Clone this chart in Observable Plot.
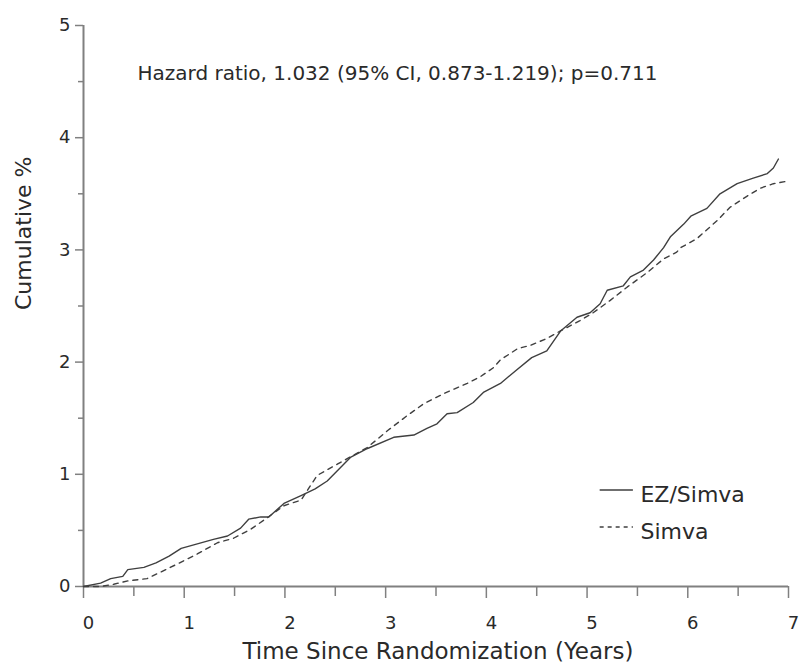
<!DOCTYPE html>
<html>
<head>
<meta charset="utf-8">
<script src="https://cdn.jsdelivr.net/npm/d3@7"></script>
<script src="https://cdn.jsdelivr.net/npm/@observablehq/plot@0.6"></script>
<style>
  html, body { margin: 0; padding: 0; background: #fff; }
  #chart { width: 799px; height: 665px; }
</style>
</head>
<body>
<div id="chart"></div>
<script>
// EZ/Simva (solid)
const ezX = [0, 0.17, 0.27, 0.39, 0.44, 0.6, 0.72, 0.85, 0.97, 1.13, 1.29, 1.43, 1.56, 1.64, 1.76, 1.84, 1.99, 2.16, 2.3, 2.42, 2.65, 2.82, 3.08, 3.28, 3.41, 3.51, 3.61, 3.71, 3.87, 3.97, 4.14, 4.3, 4.45, 4.6, 4.74, 4.9, 5.03, 5.13, 5.2, 5.36, 5.43, 5.56, 5.66, 5.76, 5.83, 5.96, 6.03, 6.19, 6.32, 6.49, 6.65, 6.79, 6.85, 6.9];
const ezY = [0, 0.03, 0.07, 0.09, 0.15, 0.17, 0.21, 0.27, 0.34, 0.38, 0.42, 0.45, 0.52, 0.60, 0.62, 0.62, 0.74, 0.81, 0.87, 0.94, 1.15, 1.23, 1.33, 1.35, 1.41, 1.45, 1.54, 1.55, 1.64, 1.73, 1.81, 1.93, 2.04, 2.10, 2.28, 2.40, 2.44, 2.52, 2.64, 2.68, 2.76, 2.82, 2.91, 3.02, 3.12, 3.23, 3.30, 3.37, 3.50, 3.59, 3.64, 3.68, 3.73, 3.81];
// Simva (dashed)
const simX = [0, 0.17, 0.3, 0.44, 0.63, 0.77, 0.93, 1.13, 1.33, 1.49, 1.66, 1.82, 1.99, 2.16, 2.32, 2.52, 2.82, 3.02, 3.21, 3.38, 3.58, 3.68, 3.81, 3.94, 4.07, 4.14, 4.31, 4.44, 4.6, 4.74, 4.93, 5.06, 5.23, 5.4, 5.6, 5.76, 5.89, 5.93, 6.09, 6.29, 6.42, 6.59, 6.72, 6.85, 6.97];
const simY = [0, 0, 0.02, 0.05, 0.07, 0.13, 0.2, 0.29, 0.39, 0.43, 0.51, 0.61, 0.72, 0.77, 0.99, 1.09, 1.24, 1.39, 1.52, 1.63, 1.72, 1.76, 1.81, 1.87, 1.95, 2.02, 2.12, 2.15, 2.21, 2.28, 2.37, 2.44, 2.55, 2.67, 2.80, 2.92, 2.98, 3.02, 3.10, 3.26, 3.38, 3.48, 3.55, 3.59, 3.61];

const xMajor = [0, 1, 2, 3, 4, 5, 6, 7];
const xMinor = [0.5, 1.5, 2.5, 3.5, 4.5, 5.5, 6.5];
const yMajor = [0, 1, 2, 3, 4, 5];
const yMinor = [0.5, 1.5, 2.5, 3.5, 4.5];

const seriesNames = ["EZ/Simva", "Simva"];
const annotation = "Hazard ratio, 1.032 (95% CI, 0.873-1.219); p=0.711";
const xTitle = "Time Since Randomization (Years)";
const yTitle = "Cumulative %";

const ez = ezX.map((x, i) => ({x, y: ezY[i]}));
const sim = simX.map((x, i) => ({x, y: simY[i]}));

// legend layout (in data space)
const legend = [
  {name: seriesNames[0], y: 0.86, dash: null},
  {name: seriesNames[1], y: 0.53, dash: "4,4"}
];
const legX1 = 5.13, legX2 = 5.46, legText = 5.53;

const axisColor = "#808080";
const lineColor = "#3f3f3f";
const textColor = "#2a2a2a";

const chart = Plot.plot({
  width: 799,
  height: 665,
  marginLeft: 83,
  marginRight: 11,
  marginTop: 25,
  marginBottom: 79,
  x: {type: "linear", domain: [0, 7], axis: null},
  y: {type: "linear", domain: [0, 5], axis: null},
  style: {fontFamily: "'DejaVu Sans', sans-serif", background: "#fff", color: textColor},
  marks: [
    // axis lines
    Plot.ruleX([0], {stroke: axisColor, strokeWidth: 2}),
    Plot.ruleY([0], {stroke: axisColor, strokeWidth: 2}),
    // x ticks
    Plot.axisX(xMajor, {tickSize: 12, tickFormat: () => "", label: null, stroke: axisColor, strokeWidth: 1.5}),
    Plot.axisX(xMinor, {tickSize: 10, tickFormat: () => "", label: null, stroke: axisColor, strokeWidth: 1.5}),
    Plot.text(xMajor, {x: d => d, frameAnchor: "bottom", dy: 37, dx: 5, text: d => String(d), fontSize: 18, fill: textColor, lineAnchor: "middle"}),
    // y ticks
    Plot.axisY(yMajor, {tickSize: 8, tickFormat: () => "", label: null, stroke: axisColor, strokeWidth: 1.5}),
    Plot.axisY(yMinor, {tickSize: 5, tickFormat: () => "", label: null, stroke: axisColor, strokeWidth: 1.5}),
    Plot.text(yMajor, {y: d => d, frameAnchor: "left", dx: -13, text: d => String(d), textAnchor: "end", fontSize: 18, fill: textColor}),
    // titles
    Plot.text([xTitle], {frameAnchor: "bottom", dy: 72, dx: 2, fontSize: 23, fill: textColor}),
    Plot.text([yTitle], {frameAnchor: "left", dx: -60, dy: 4, rotate: -90, fontSize: 22, fill: textColor}),
    Plot.text([annotation], {frameAnchor: "top-left", dx: 54, dy: 40, textAnchor: "start", fontSize: 20, fill: textColor}),
    // curves
    Plot.line(sim, {x: "x", y: "y", stroke: lineColor, strokeWidth: 1.4, strokeDasharray: "5,5"}),
    Plot.line(ez, {x: "x", y: "y", stroke: lineColor, strokeWidth: 1.4}),
    // legend
    Plot.ruleY(legend.filter(d => !d.dash), {y: "y", x1: legX1, x2: legX2, stroke: lineColor, strokeWidth: 1.4}),
    Plot.ruleY(legend.filter(d => d.dash), {y: "y", x1: legX1, x2: legX2, stroke: lineColor, strokeWidth: 1.4, strokeDasharray: "4,4"}),
    Plot.text(legend, {x: () => legText, y: "y", text: "name", textAnchor: "start", fontSize: 22, fill: textColor, dy: 5})
  ]
});
document.getElementById("chart").appendChild(chart);
</script>
</body>
</html>
